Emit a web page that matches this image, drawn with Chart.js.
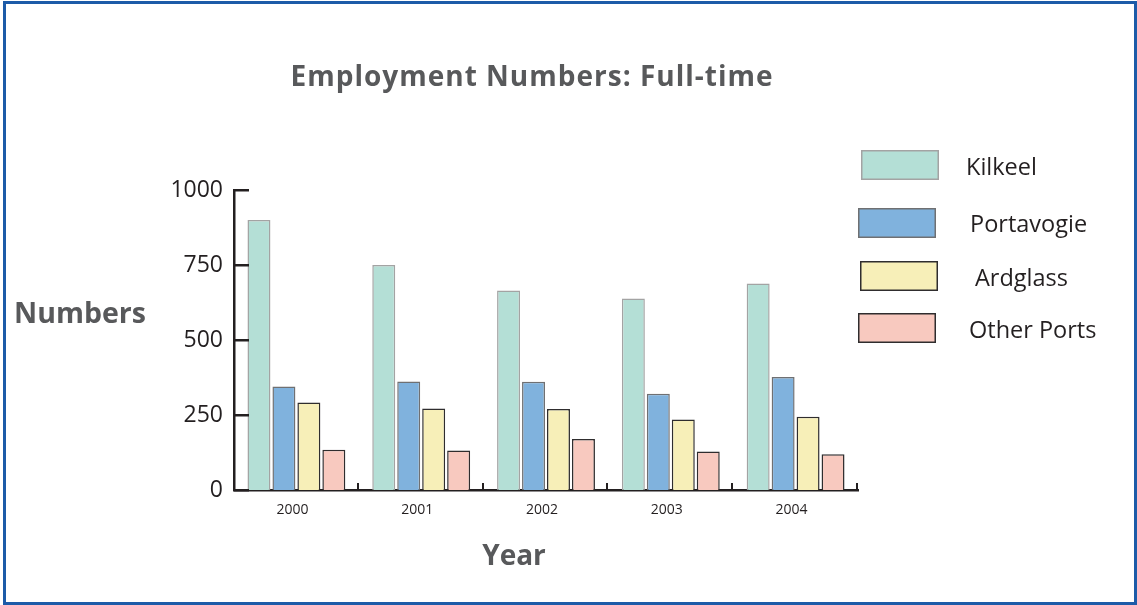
<!DOCTYPE html>
<html>
<head>
<meta charset="utf-8">
<title>Employment Numbers: Full-time</title>
<script src="https://cdn.jsdelivr.net/npm/chart.js@4/dist/chart.umd.min.js"></script>
<style>
  html, body { margin: 0; padding: 0; background: #fff; }
  #wrap { position: relative; width: 1137px; height: 605px; overflow: hidden; }
  #dataChart { position: absolute; left: 0; top: 0; }
  #frame {
    position: absolute; left: 3px; top: 1px; width: 1134px; height: 604px;
    box-sizing: border-box; border: 3px solid #1d5ba8; pointer-events: none;
  }
</style>
</head>
<body>
<div id="wrap">
  <canvas id="dataChart" width="1137" height="605"></canvas>
  <div id="frame"></div>
</div>
<script>
const years = ['2000', '2001', '2002', '2003', '2004'];
const kilkeel = [900, 750, 665, 638, 688];
const portavogie = [345, 362, 361, 321, 377];
const ardglass = [292, 272, 270, 235, 244];
const otherPorts = [134, 132, 170, 128, 119];
const yTicks = [0, 250, 500, 750, 1000];

const FONT = '"Open Sans", "Noto Sans", sans-serif';
const INK = '#231f20';
const GREY_TEXT = '#58595b';

const series = [
  { label: 'Kilkeel', data: kilkeel, fill: '#b4dfd6', edge: '#a3a3a3' },
  { label: 'Portavogie', data: portavogie, fill: '#80b2dd', edge: '#6f7072' },
  { label: 'Ardglass', data: ardglass, fill: '#f7efb8', edge: '#2f2d2e' },
  { label: 'Other Ports', data: otherPorts, fill: '#f8c9bf', edge: '#2f2d2e' }
];

// legend rows sit a little unevenly on the right side
const legendRows = [
  { bx: 861, by: 150, tx: 966, ty: 168 },
  { bx: 858, by: 208, tx: 970, ty: 225 },
  { bx: 860, by: 261, tx: 975, ty: 279 },
  { bx: 858, by: 313, tx: 969, ty: 331 }
];

const decorations = {
  id: 'decorations',
  afterDraw(chart) {
    const ctx = chart.ctx;
    const area = chart.chartArea;
    const y = chart.scales.y;

    ctx.save();
    ctx.strokeStyle = INK;

    // inward tick marks on the value axis
    ctx.lineWidth = 2.5;
    yTicks.forEach(v => {
      const py = Math.round(y.getPixelForValue(v)) + 0.25;
      ctx.beginPath();
      ctx.moveTo(area.left, py);
      ctx.lineTo(area.left + 15, py);
      ctx.stroke();
    });

    // short upward ticks between the year groups
    ctx.lineWidth = 2;
    const step = (area.right - area.left) / years.length;
    for (let i = 1; i <= years.length; i++) {
      const px = Math.round(area.left + step * i) - 1;
      ctx.beginPath();
      ctx.moveTo(px, area.bottom);
      ctx.lineTo(px, area.bottom - 7);
      ctx.stroke();
    }

    // title and axis names
    ctx.fillStyle = GREY_TEXT;
    ctx.textBaseline = 'alphabetic';
    ctx.font = `bold 28px ${FONT}`;
    ctx.letterSpacing = '1px';
    ctx.textAlign = 'center';
    ctx.fillText('Employment Numbers: Full-time', 532, 86);
    ctx.letterSpacing = '0px';

    ctx.font = `bold 28.5px ${FONT}`;
    ctx.textAlign = 'left';
    ctx.fillText('Numbers', 14, 323);

    ctx.font = `bold 28px ${FONT}`;
    ctx.textAlign = 'center';
    ctx.fillText('Year', 514, 565);

    // legend
    ctx.font = `23.5px ${FONT}`;
    ctx.textAlign = 'left';
    ctx.textBaseline = 'middle';
    chart.data.datasets.forEach((ds, i) => {
      const row = legendRows[i];
      ctx.fillStyle = ds.backgroundColor;
      ctx.fillRect(row.bx, row.by, 78, 30);
      ctx.lineWidth = 1.5;
      ctx.strokeStyle = ds.borderColor;
      ctx.strokeRect(row.bx + 0.75, row.by + 0.75, 76.5, 28.5);
      ctx.fillStyle = INK;
      ctx.fillText(ds.label, row.tx, row.ty);
    });

    ctx.restore();
  }
};

new Chart(document.getElementById('dataChart').getContext('2d'), {
  type: 'bar',
  data: {
    labels: years,
    datasets: series.map(s => ({
      label: s.label,
      data: s.data,
      backgroundColor: s.fill,
      borderColor: s.edge,
      borderWidth: 1.5,
      categoryPercentage: 0.8,
      barPercentage: 0.92
    }))
  },
  options: {
    responsive: false,
    devicePixelRatio: 1,
    animation: false,
    layout: {
      padding: { left: 0, top: 190, right: 279, bottom: 0 }
    },
    plugins: {
      legend: { display: false },
      title: { display: false },
      tooltip: { enabled: false }
    },
    scales: {
      x: {
        afterFit(scale) { scale.height = 115; },
        grid: { display: false, drawTicks: false },
        border: { display: true, color: INK, width: 2.5 },
        ticks: {
          color: INK,
          padding: 12,
          labelOffset: -4,
          font: { family: FONT, size: 14 }
        }
      },
      y: {
        min: 0,
        max: 1000,
        afterFit(scale) { scale.width = 234; },
        afterBuildTicks(scale) { scale.ticks = yTicks.map(v => ({ value: v })); },
        grid: { display: false, drawTicks: false },
        border: { display: true, color: INK, width: 2.5 },
        ticks: {
          color: INK,
          padding: 11,
          font: { family: FONT, size: 23 },
          callback: v => String(v)
        }
      }
    }
  },
  plugins: [decorations]
});
</script>
</body>
</html>
